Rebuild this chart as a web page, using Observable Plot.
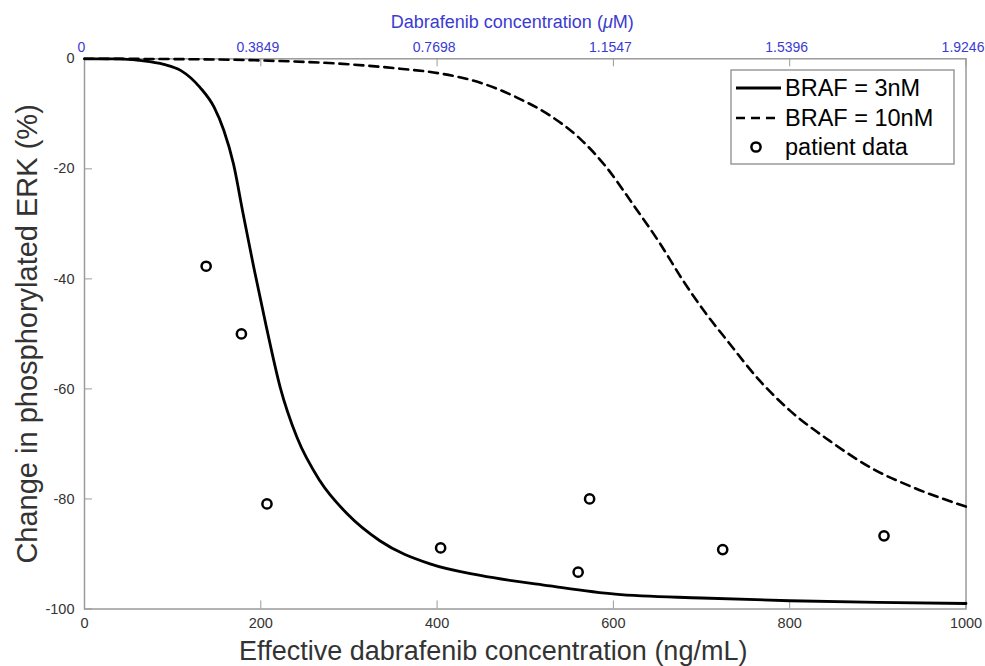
<!DOCTYPE html>
<html>
<head>
<meta charset="utf-8">
<script src="https://cdn.jsdelivr.net/npm/d3@7"></script>
<script src="https://cdn.jsdelivr.net/npm/@observablehq/plot@0.6"></script>
<style>
  html, body { margin: 0; padding: 0; background: #fff; }
</style>
</head>
<body>
<div id="chart"></div>
<script>
// ---- data ----
const xTicks = [0, 200, 400, 600, 800, 1000];
const topTickLabels = ["0", "0.3849", "0.7698", "1.1547", "1.5396", "1.9246"];
const yTicks = [0, -20, -40, -60, -80, -100];

const braf3Conc = [0, 40, 63, 90, 109, 131, 147, 158, 169, 180, 192, 206, 222, 241, 267, 298, 335, 392, 449, 528, 602, 700, 800, 900, 1000];
const braf3Erk  = [0, 0, -0.3, -1.0, -2.1, -5.2, -8.8, -13.0, -19.1, -28.2, -37.9, -48.5, -59.7, -68.8, -76.7, -82.7, -87.6, -91.8, -93.9, -95.8, -97.3, -98.0, -98.5, -98.8, -99.0];

const braf10Conc = [0, 100, 200, 300, 358, 401, 452, 490, 528, 562, 592, 622, 653, 679, 705, 729, 766, 800, 845, 894, 940, 1000];
const braf10Erk  = [0, -0.05, -0.3, -1.0, -1.8, -2.6, -4.5, -7.0, -10.3, -14.5, -19.7, -26.4, -33.6, -40.3, -46.3, -51.2, -58.5, -63.9, -69.4, -74.5, -77.9, -81.4];

const patientConc = [138, 178, 207, 404, 560, 573, 724, 907];
const patientErk  = [-37.7, -50.0, -80.9, -88.9, -93.3, -80.0, -89.2, -86.7];

const seriesNames = ["BRAF = 3nM", "BRAF = 10nM", "patient data"];
const xLabel = "Effective dabrafenib concentration (ng/mL)";
const yLabel = "Change in phosphorylated ERK (%)";
const topLabel = "Dabrafenib concentration (\u03BCM)";

// ---- build tables ----
const braf3 = braf3Conc.map((c, i) => ({c, e: braf3Erk[i]}));
const braf10 = braf10Conc.map((c, i) => ({c, e: braf10Erk[i]}));
const patients = patientConc.map((c, i) => ({c, e: patientErk[i]}));

const W = 985, H = 666;
const mL = 84, mR = 19.5, mT = 58.3, mB = 57.5;
const plotW = W - mL - mR, plotH = H - mT - mB;
const blue = "#3b3bd2";
const grey = "#9a9a9a";
const textCol = "#333";
const font = "'Liberation Sans', Arial, Helvetica, sans-serif";

const chart = Plot.plot({
  width: W, height: H,
  marginLeft: mL, marginRight: mR, marginTop: mT, marginBottom: mB,
  style: {fontFamily: font, background: "#fff", overflow: "visible"},
  x: {domain: [0, 1000]},
  y: {domain: [-100, 0]},
  marks: [
    Plot.frame({stroke: grey, strokeWidth: 1.5}),
    Plot.tickX(xTicks, {x: d => d, insetTop: plotH - 8, stroke: grey, strokeWidth: 1}),
    Plot.tickX(xTicks, {x: d => d, insetBottom: plotH - 8, stroke: grey, strokeWidth: 1}),
    Plot.tickY(yTicks, {y: d => d, insetRight: plotW - 8, stroke: grey, strokeWidth: 1}),
    Plot.axisX(xTicks, {anchor: "bottom", tickSize: 0, tickPadding: 9, fontSize: 14.5, fill: textCol, label: null,
      tickFormat: d => String(d)}),
    Plot.axisX(xTicks, {anchor: "top", tickSize: 0, tickPadding: 7, fontSize: 14, dx: -3, fill: blue, label: null,
      tickFormat: d => topTickLabels[xTicks.indexOf(d)]}),
    Plot.axisY(yTicks, {anchor: "left", tickSize: 0, tickPadding: 10, fontSize: 14.5, fill: textCol, label: null,
      tickFormat: d => String(d)}),
    Plot.line(braf10, {x: "c", y: "e", curve: "monotone-x", stroke: "#000", strokeWidth: 2.6, strokeDasharray: "9,6"}),
    Plot.line(braf3, {x: "c", y: "e", curve: "monotone-x", stroke: "#000", strokeWidth: 2.8}),
    Plot.dot(patients, {x: "c", y: "e", r: 4.6, stroke: "#000", strokeWidth: 2.5, fill: "none"}),
    Plot.text([xLabel], {text: d => d, frameAnchor: "bottom", lineAnchor: "middle", textAnchor: "middle",
      dx: -32, dy: 42, fontSize: 27, fill: textCol}),
    Plot.text([yLabel], {text: d => d, frameAnchor: "left", lineAnchor: "middle", textAnchor: "middle",
      rotate: -90, dx: -57, fontSize: 29, fill: textCol}),
    Plot.text([topLabel], {text: d => d, frameAnchor: "top", lineAnchor: "middle", textAnchor: "middle",
      dx: -13, dy: -37, fontSize: 18, fill: blue})
  ]
});

document.getElementById("chart").appendChild(chart);

// italic mu in the top title
const svg = d3.select(chart);
svg.selectAll("text").filter(function() { return this.textContent === topLabel; }).each(function() {
  const t = d3.select(this);
  t.text(null);
  t.append("tspan").text("Dabrafenib concentration (");
  t.append("tspan").attr("font-style", "italic").text("\u03BC");
  t.append("tspan").text("M)");
});

// legend
const lg = svg.append("g").attr("font-family", font).attr("text-anchor", "start");
const lx = 731, ly = 70, lw = 223, lh = 94;
lg.append("rect").attr("x", lx).attr("y", ly).attr("width", lw).attr("height", lh)
  .attr("fill", "#fff").attr("stroke", grey).attr("stroke-width", 1.5);
const rows = [88, 118, 147];
lg.append("line").attr("x1", 736).attr("x2", 781).attr("y1", rows[0]).attr("y2", rows[0])
  .attr("stroke", "#000").attr("stroke-width", 2.8);
lg.append("line").attr("x1", 736).attr("x2", 781).attr("y1", rows[1]).attr("y2", rows[1])
  .attr("stroke", "#000").attr("stroke-width", 2.6).attr("stroke-dasharray", "9,6");
lg.append("circle").attr("cx", 756).attr("cy", rows[2]).attr("r", 4.6)
  .attr("fill", "none").attr("stroke", "#000").attr("stroke-width", 2.5);
seriesNames.forEach((s, i) => {
  lg.append("text").attr("x", 785).attr("y", rows[i]).attr("dy", "0.35em")
    .attr("text-anchor", "start").attr("font-size", 23.5).attr("fill", "#000").text(s);
});
</script>
</body>
</html>
